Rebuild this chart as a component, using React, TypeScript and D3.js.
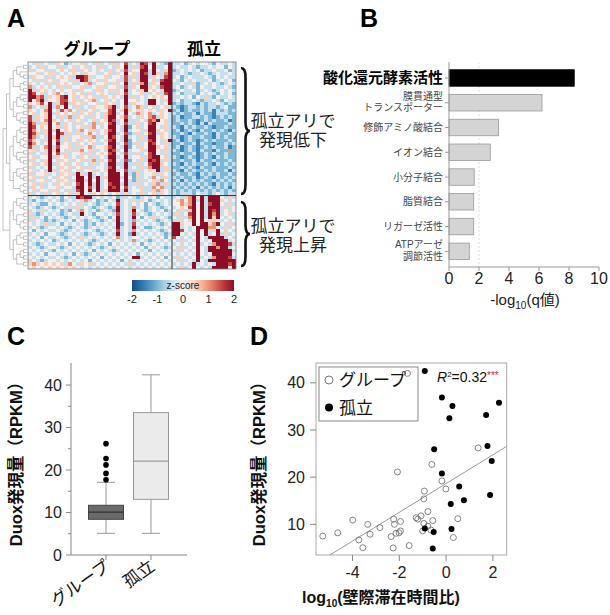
import React from "react";
import * as d3 from "d3";

const FONT = "'Liberation Sans', 'Noto Sans CJK JP', sans-serif";

// ---- A: heatmap (digit d -> z = (d-4)/2), 36 group columns | 16 isolated columns
const heatRows = [
  "435343 354234 453435 343534 734387 384328|3342 3434 4324 3343",
  "343534 435345 345343 534354 835378 483348|3433 4323 3434 4243",
  "534453 345435 354345 435343 734488 384358|2343 4342 3343 3423",
  "445345 534345 435443 345354 845387 385368|3343 2334 3234 3343",
  "354435 345453 887534 453443 735388 354378|3423 4333 4324 3433",
  "435354 534435 587345 354453 734588 453788|4324 3433 3423 4342",
  "543435 354543 345634 453534 835368 354888|3343 3523 4343 2343",
  "634543 435354 453345 534453 735488 543788|3423 4324 3343 3432",
  "853454 345443 354435 345534 834358 454388|2343 3423 4323 4343",
  "874534 564345 453534 543354 734453 345378|3423 3324 3432 4342",
  "886735 457845 345453 354543 835343 454548|3343 4243 5324 3343",
  "846834 457745 534563 453434 844543 884358|3423 3432 3343 2433",
  "545748 357835 453445 354534 835443 884348|2323 3213 2334 3232",
  "634358 364843 534354 456834 734653 453453|3212 3323 2332 3422",
  "543468 437364 353453 447845 854354 543548|2312 3223 2313 2323",
  "453458 354545 354534 357834 843654 634543|3232 2313 2213 3322",
  "735458 435363 543354 358845 734354 673543|2312 2332 3212 3232",
  "753468 543435 453453 458734 833543 768453|2322 3212 3232 2312",
  "863558 463543 534363 547834 733534 784453|2232 3213 1322 2232",
  "874548 453543 453564 348843 824534 884353|3213 2322 3212 2322",
  "864358 384543 564353 457843 834453 885453|2312 3213 2232 3213",
  "875358 487353 534643 458834 723534 783543|2232 1322 3213 2232",
  "863438 583534 453563 348743 834353 884543|3212 3223 2213 2322",
  "754358 473534 354543 457843 824353 784358|2312 3212 3232 2232",
  "864348 483453 543453 348834 723534 874353|2232 2313 2212 2323",
  "753468 374453 354634 457843 824354 885453|2312 3212 3232 2312",
  "453438 584353 564353 438734 834453 884353|3212 3213 2213 2262",
  "534358 473534 453534 547843 733534 784353|2232 2312 3232 2322",
  "453448 354534 354353 438834 834453 788453|3212 3212 3213 2322",
  "534358 435453 453563 547843 724353 878353|2232 2313 2232 2232",
  "453458 354534 534353 438833 833534 788543|3213 2322 3213 2323",
  "534348 435453 453534 437843 834353 688353|2232 3213 2232 2232",
  "453438 354534 534453 458834 733534 548353|3213 2322 3232 2313",
  "534453 435453 853834 348884 832534 453543|2322 3213 2323 2232",
  "453534 354534 884838 358883 842534 364353|3232 2312 3213 2323",
  "534453 435453 883848 348884 832353 453643|2313 2323 2232 3232",
  "453534 354534 784838 347883 833534 356353|3232 3232 3213 2323",
  "354534 453443 884738 348784 734353 364633|2323 2313 2323 2313",
  "453443 534353 784848 358883 834453 356543|3232 3232 3232 3232",
  "534353 453453 584354 543453 534353 453543|3233 3243 3234 3233",
  "343234 342433 878834 343423 343234 342433|3435 6848 3888 4353",
  "324343 432343 436342 324383 435354 234343|4564 6838 3888 5434",
  "343224 343434 353432 343473 434342 432343|4465 6848 3788 4353",
  "432343 234353 534323 432383 436342 343234|3454 7848 3888 3534",
  "343534 342324 364342 343283 438432 343423|4353 5848 3878 3434",
  "532343 432343 384324 434373 437343 234343|3534 7848 3868 3453",
  "353424 343234 343432 342483 438424 353432|4353 6848 3858 4343",
  "534323 234342 432343 234383 432343 432343|3534 3848 4354 3434",
  "434353 342434 342324 343482 437434 343234|8854 4848 8568 4353",
  "343234 434323 432343 434383 438342 234343|8834 3488 8664 3534",
  "424343 343234 343432 343473 436434 343234|8874 3484 8358 4343",
  "343424 432343 432343 234383 428343 434323|8843 4384 8348 3534",
  "434243 343234 353434 343463 434434 343424|7434 3484 3888 8343",
  "343434 234343 434323 434343 436343 234343|4353 4384 3488 8834",
  "432343 343424 343234 342434 343424 343434|3434 3483 4368 8873",
  "343234 432343 434343 234343 434342 434323|4353 4384 3886 8834",
  "434343 243434 343424 343234 343434 243434|3534 3484 3888 8883",
  "343424 434342 432343 434343 434243 434343|4343 4384 3488 8884",
  "434343 343234 343434 243434 348834 343424|3534 3483 4368 8873",
  "343234 434343 434243 434342 434343 434343|4353 4384 3888 8888",
  "565454 545364 354534 343434 353434 343434|3434 3834 3438 8878",
  "454545 454545 434343 434343 434343 434343|4353 4843 4388 8848",
];
const heatUpperRows = 40;
const heatGroupCols = 36;
const colorTicks = [-2, -1, 0, 1, 2];

// dendrogram shape (numbers = small chained subclusters of leaves)
const dendroUpper: any = [[[[2, 3], [2, 2]], [[3, 2], [2, 3]]], [[[3, [2, 2]], [2, 3]], [[2, 3], [2, 2]]]];
const dendroLower: any = [[[2, 3], [2, [2, 2]]], [[3, 2], [[2, 2], 2]]];

// ---- B: GO terms
const goLabels = [
  ["酸化還元酵素活性"],
  ["膜貫通型", "トランスポーター"],
  ["修飾アミノ酸結合"],
  ["イオン結合"],
  ["小分子結合"],
  ["脂質結合"],
  ["リガーゼ活性"],
  ["ATPアーゼ", "調節活性"],
];
const goValues = [8.35, 6.2, 3.3, 2.75, 1.68, 1.65, 1.65, 1.35];
const goTicks = [0, 2, 4, 6, 8, 10];

// ---- C: box plot
const boxCats = ["グループ", "孤立"];
const boxMin = [5.1, 5.1];
const boxQ1 = [8.4, 13.1];
const boxMed = [10.1, 22.1];
const boxQ3 = [11.7, 33.5];
const boxMax = [17.1, 42.4];
const groupOutliers = [17.7, 19.2, 21.2, 22.7, 26.2];
const boxTicks = [0, 10, 20, 30, 40];
const boxMinorTicks = [5, 15, 25, 35];

// ---- D: scatter
const groupX = [-5.27, -4.63, -3.99, -3.73, -3.56, -3.35, -3.25, -2.83, -2.35, -2.26, -2.24, -2.21, -2.14, -2.08, -2.01, -1.95, -1.95, -1.65, -1.58, -1.28, -1.21, -1.07, -1.0, -0.95, -0.93, -0.95, -0.78, -0.78, -0.65, -0.61, -0.57, -0.18, -0.01, 0.31, 0.5, 1.37];
const groupY = [7.5, 8.2, 10.9, 6.7, 5.05, 10.0, 7.9, 9.3, 7.4, 5.0, 11.1, 10.0, 8.1, 21.1, 8.2, 10.6, 8.6, 42.0, 5.5, 11.4, 11.1, 11.8, 8.6, 10.2, 17.05, 15.4, 12.7, 9.6, 8.8, 22.7, 10.8, 19.2, 17.5, 7.2, 11.2, 26.2];
const isoX = [-0.91, -0.18, 0.27, 0.14, 2.26, 1.71, 1.77, -0.51, 1.95, -0.18, 0.56, 0.2, 0.76, 1.88, -0.91, -0.53, 0.23, -0.57];
const isoY = [42.5, 36.9, 35.1, 32.5, 35.8, 33.2, 26.6, 25.9, 23.4, 20.8, 18.0, 14.3, 15.1, 16.2, 9.1, 8.4, 9.0, 4.9];
const scatterXTicks = [-4, -2, 0, 2];
const scatterYTicks = [10, 20, 30, 40];

const zColor = (z: number) => d3.interpolateRdBu(0.5 - 0.225 * Math.max(-2, Math.min(2, z)));

function buildTree(n: any): any {
  if (typeof n === "number") {
    if (n === 1) return {};
    return { children: [{}, buildTree(n - 1)] };
  }
  return { children: n.map(buildTree) };
}

function brace(x: number, y0: number, y1: number, w: number) {
  const ym = (y0 + y1) / 2;
  const xm = x + w / 2;
  return `M${x},${y0} Q${xm},${y0} ${xm},${y0 + w} L${xm},${ym - w} Q${xm},${ym} ${x + w},${ym} Q${xm},${ym} ${xm},${ym + w} L${xm},${y1 - w} Q${xm},${y1} ${x},${y1}`;
}

const App: React.FC = () => {
  // heatmap geometry
  const cells = heatRows.map(r => r.replace(/[ |]/g, "").split("").map(c => (+c - 4) / 2));
  const nRows = cells.length;
  const nCols = cells[0].length;
  const hx = d3.scaleLinear([0, nCols], [28, 236]);
  const hy = d3.scaleLinear([0, nRows], [62, 269]);
  const rowH = hy(1) - hy(0);

  const root = d3.hierarchy<any>({ children: [buildTree(dendroUpper), buildTree(dendroLower)] });
  d3.cluster<any>().size([rowH * (nRows - 1), 24]).separation(() => 1)(root);
  const dv = (n: any) => n.x + hy(0) + rowH / 2;
  const dh = (n: any) => 3 + n.y;

  const cb = d3.scaleLinear([-2, 2], [132, 234]);

  // B
  const bx = d3.scaleLinear([0, 10], [449, 599]);
  const by = d3.scaleBand<number>(d3.range(goValues.length), [65.6, 263.7]).paddingInner(0.334).paddingOuter(0.167);

  // C
  const cy = d3.scaleLinear([0, 40], [555, 385]);
  const cx = d3.scalePoint(boxCats, [106, 151]);
  const boxW = 35;

  // D
  const sx = d3.scaleLinear([-5.56, 2.59], [316, 506.7]);
  const sy = d3.scaleLinear([3.5, 44.2], [555, 363]);
  const allX = [...groupX, ...isoX];
  const allY = [...groupY, ...isoY];
  const mx = d3.mean(allX)!;
  const my = d3.mean(allY)!;
  const slope = d3.sum(allX, (x, i) => (x - mx) * (allY[i] - my)) / d3.sum(allX, x => (x - mx) ** 2);
  const icpt = my - slope * mx;
  const lx0 = (3.5 - icpt) / slope;
  const lx1 = 2.59;

  return (
    <div style={{ position: "absolute", left: 0, top: 0 }}>
      <svg width={610} height={615} style={{ display: "block", background: "#fff" }} fontFamily={FONT}>
        {/* ---------- A ---------- */}
        <text x={7} y={27} fontSize={25} fontWeight="bold">A</text>
        <text x={97} y={55} fontSize={17} fontWeight="bold" textAnchor="middle">グループ</text>
        <text x={204} y={55} fontSize={17} fontWeight="bold" textAnchor="middle">孤立</text>
        <g>
          {root.links().map((l: any, i) => (
            <path key={i} d={`M${dh(l.source)},${dv(l.source)}V${dv(l.target)}H${dh(l.target)}`} fill="none" stroke="#999" strokeWidth={0.6} />
          ))}
        </g>
        <g shapeRendering="crispEdges">
          {cells.map((row, i) =>
            row.map((z, j) => (
              <rect key={`${i}-${j}`} x={hx(j)} y={hy(i)} width={hx(1) - hx(0) + 0.3} height={rowH + 0.3} fill={zColor(z)} />
            ))
          )}
        </g>
        <rect x={hx(0)} y={hy(0)} width={hx(nCols) - hx(0)} height={hy(nRows) - hy(0)} fill="none" stroke="#777" strokeWidth={0.8} />
        <line x1={hx(heatGroupCols)} x2={hx(heatGroupCols)} y1={hy(0)} y2={hy(nRows)} stroke="#333" strokeWidth={1} />
        <line x1={hx(0)} x2={hx(nCols)} y1={hy(heatUpperRows)} y2={hy(heatUpperRows)} stroke="#333" strokeWidth={1} />
        <path d={brace(241, 68, 194, 9)} fill="none" stroke="#111" strokeWidth={2.6} />
        <path d={brace(241, 202, 266, 9)} fill="none" stroke="#111" strokeWidth={2.6} />
        <text x={293} y={127} fontSize={17} textAnchor="middle" fill="#222">孤立アリで</text>
        <text x={293} y={146} fontSize={17} textAnchor="middle" fill="#222">発現低下</text>
        <text x={293} y={232} fontSize={17} textAnchor="middle" fill="#222">孤立アリで</text>
        <text x={293} y={251} fontSize={17} textAnchor="middle" fill="#222">発現上昇</text>
        <defs>
          <linearGradient id="zgrad" x1="0" x2="1" y1="0" y2="0">
            {d3.range(0, 1.0001, 0.1).map(t => (
              <stop key={t} offset={t} stopColor={zColor(-2 + 4 * t)} />
            ))}
          </linearGradient>
        </defs>
        <rect x={cb(-2)} y={280} width={cb(2) - cb(-2)} height={11} fill="url(#zgrad)" />
        <text x={cb(0)} y={289} fontSize={10} textAnchor="middle" fill="#222">z-score</text>
        {colorTicks.map(t => (
          <text key={t} x={cb(t)} y={303} fontSize={11} textAnchor="middle" fill="#222">{t}</text>
        ))}

        {/* ---------- B ---------- */}
        <text x={360} y={27} fontSize={25} fontWeight="bold">B</text>
        <line x1={bx(2)} x2={bx(2)} y1={62} y2={267} stroke="#ddd" strokeDasharray="2,2" />
        {goValues.map((v, i) => (
          <rect key={i} x={bx(0)} y={by(i)} width={bx(v) - bx(0)} height={by.bandwidth()}
            fill={i === 0 ? "#000" : "#d4d4d4"} stroke={i === 0 ? "#000" : "#999"} strokeWidth={0.8} />
        ))}
        <line x1={bx(0)} x2={bx(0)} y1={62} y2={267} stroke="#999" />
        <line x1={bx(0)} x2={bx(10)} y1={267} y2={267} stroke="#999" />
        {goLabels.map((lines, i) => {
          const c = by(i)! + by.bandwidth() / 2;
          return (
            <g key={i}>
              <line x1={bx(0) - 4} x2={bx(0)} y1={c} y2={c} stroke="#999" />
              {lines.map((s, k) => (
                <text key={k} x={443} y={lines.length === 1 ? c : c - 6.5 + k * 11.5} dy="0.35em" textAnchor="end"
                  fontSize={i === 0 ? 15 : 10} fontWeight={i === 0 ? "bold" : "normal"} fill={i === 0 ? "#000" : "#444"}>
                  {s}
                </text>
              ))}
            </g>
          );
        })}
        {goTicks.map(t => (
          <g key={t}>
            <line x1={bx(t)} x2={bx(t)} y1={267} y2={271} stroke="#999" />
            <text x={bx(t)} y={284} fontSize={16} textAnchor="middle" fill="#222">{t}</text>
          </g>
        ))}
        <text x={525} y={305} fontSize={15} textAnchor="middle" fill="#222">
          -log<tspan fontSize={10} dy={4}>10</tspan><tspan dy={-4}>(q値)</tspan>
        </text>

        {/* ---------- C ---------- */}
        <text x={7} y={345} fontSize={25} fontWeight="bold">C</text>
        <text transform="translate(22,460) rotate(-90)" fontSize={16.5} fontWeight="bold" textAnchor="middle" fill="#111">Duox発現量（RPKM）</text>
        <line x1={71} x2={71} y1={363} y2={555} stroke="#888" />
        <line x1={71} x2={187} y1={555} y2={555} stroke="#888" />
        {boxTicks.map(t => (
          <g key={t}>
            <line x1={66} x2={71} y1={cy(t)} y2={cy(t)} stroke="#888" />
            <text x={62} y={cy(t)} dy="0.35em" fontSize={16} textAnchor="end" fill="#222">{t}</text>
          </g>
        ))}
        {boxMinorTicks.map(t => (
          <line key={t} x1={68} x2={71} y1={cy(t)} y2={cy(t)} stroke="#888" />
        ))}
        {boxCats.map((c, i) => {
          const x = cx(c)!;
          const dark = i === 0;
          return (
            <g key={c}>
              <line x1={x} x2={x} y1={555} y2={560} stroke="#888" />
              <line x1={x} x2={x} y1={cy(boxMin[i])} y2={cy(boxMax[i])} stroke="#999" />
              <line x1={x - 9} x2={x + 9} y1={cy(boxMin[i])} y2={cy(boxMin[i])} stroke="#999" />
              <line x1={x - 9} x2={x + 9} y1={cy(boxMax[i])} y2={cy(boxMax[i])} stroke="#999" />
              <rect x={x - boxW / 2} y={cy(boxQ3[i])} width={boxW} height={cy(boxQ1[i]) - cy(boxQ3[i])}
                fill={dark ? "#6a6a6a" : "#ebebeb"} stroke={dark ? "#444" : "#999"} />
              <line x1={x - boxW / 2} x2={x + boxW / 2} y1={cy(boxMed[i])} y2={cy(boxMed[i])} stroke={dark ? "#333" : "#999"} strokeWidth={1.2} />
              <text transform={`translate(${x + 5},${569}) rotate(-35)`} fontSize={17} textAnchor="end" fill="#111">{c}</text>
            </g>
          );
        })}
        {groupOutliers.map((v, i) => (
          <circle key={i} cx={cx(boxCats[0])!} cy={cy(v)} r={2.8} fill="#000" />
        ))}

        {/* ---------- D ---------- */}
        <text x={250} y={345} fontSize={25} fontWeight="bold">D</text>
        <text transform="translate(265,460) rotate(-90)" fontSize={16.5} fontWeight="bold" textAnchor="middle" fill="#111">Duox発現量（RPKM）</text>
        <rect x={316} y={363} width={506.7 - 316} height={555 - 363} fill="none" stroke="#aaa" />
        {scatterYTicks.map(t => (
          <g key={t}>
            <line x1={310} x2={316} y1={sy(t)} y2={sy(t)} stroke="#888" />
            <text x={305} y={sy(t)} dy="0.35em" fontSize={16} textAnchor="end" fill="#222">{t}</text>
          </g>
        ))}
        {scatterXTicks.map(t => (
          <g key={t}>
            <line x1={sx(t)} x2={sx(t)} y1={555} y2={561} stroke="#888" />
            <text x={sx(t)} y={578} fontSize={16} textAnchor="middle" fill="#222">{t}</text>
          </g>
        ))}
        <line x1={sx(lx0)} y1={sy(icpt + slope * lx0)} x2={sx(lx1)} y2={sy(icpt + slope * lx1)} stroke="#999" strokeWidth={1} />
        {groupX.map((x, i) => (
          <circle key={`g${i}`} cx={sx(x)} cy={sy(groupY[i])} r={3} fill="none" stroke="#777" strokeWidth={0.9} />
        ))}
        {isoX.map((x, i) => (
          <circle key={`s${i}`} cx={sx(x)} cy={sy(isoY[i])} r={3} fill="#000" />
        ))}
        <rect x={319} y={367} width={99} height={54} fill="none" stroke="#888" />
        <circle cx={329} cy={380} r={4} fill="none" stroke="#777" />
        <text x={339} y={386} fontSize={17} fill="#111">グループ</text>
        <circle cx={329} cy={407.5} r={4} fill="#000" />
        <text x={339} y={414} fontSize={17} fill="#111">孤立</text>
        <text x={437} y={382} fontSize={14} fill="#111">
          <tspan fontStyle="italic">R</tspan><tspan fontSize={8} dy={-5}>2</tspan><tspan dy={5}>=0.32</tspan>
          <tspan fontSize={10} dy={-3} fill="#e02020">***</tspan>
        </text>
        <text x={381} y={603} fontSize={16} fontWeight="bold" textAnchor="middle" fill="#111">
          log<tspan fontSize={10} dy={4}>10</tspan><tspan dy={-4}>(壁際滞在時間比)</tspan>
        </text>
      </svg>
    </div>
  );
};

export default App;
